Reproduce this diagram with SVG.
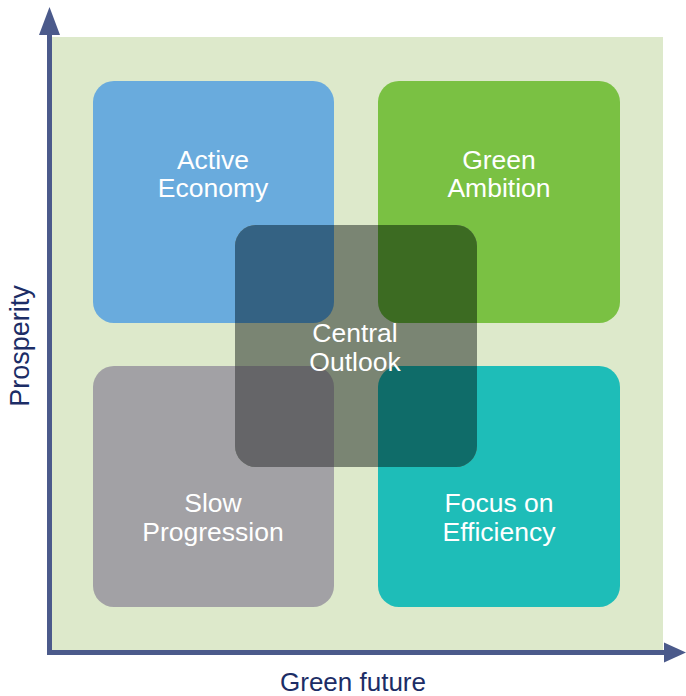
<svg xmlns="http://www.w3.org/2000/svg" width="686" height="696" viewBox="0 0 686 696">
<style>
.lbl{font-family:"Liberation Sans",Arial,sans-serif;font-size:26.5px;fill:#ffffff;text-anchor:middle}
.ax{font-family:"Liberation Sans",Arial,sans-serif;font-size:26px;fill:#1c2d66;text-anchor:middle}
.axl{stroke:#4b5a8b;stroke-width:5;fill:none}
.axh{fill:#4b5a8b}
</style>
<defs>
<clipPath id="cc"><rect x="235" y="225" width="242" height="242" rx="21"/></clipPath>
</defs>
<rect x="50" y="37" width="613" height="614" fill="#dde9cb"/>
<g id="active-economy">
<rect x="93" y="81" width="241" height="242" rx="21" fill="#69abdd"/>
<text class="lbl" x="213" y="169">Active</text>
<text class="lbl" x="213" y="197">Economy</text>
</g>
<g id="green-ambition">
<rect x="378" y="81" width="242" height="242" rx="21" fill="#7ac143"/>
<text class="lbl" x="499" y="169">Green</text>
<text class="lbl" x="499" y="197">Ambition</text>
</g>
<g id="slow-progression">
<rect x="93" y="366" width="241" height="241" rx="21" fill="#a2a1a5"/>
<text class="lbl" x="213" y="512">Slow</text>
<text class="lbl" x="213" y="541">Progression</text>
</g>
<g id="focus-on-efficiency">
<rect x="378" y="366" width="242" height="241" rx="21" fill="#1ebdb8"/>
<text class="lbl" x="499" y="512">Focus on</text>
<text class="lbl" x="499" y="541">Efficiency</text>
</g>
<g id="central-outlook">
<rect x="235" y="225" width="242" height="242" rx="21" fill="#7a8573"/>
<g clip-path="url(#cc)">
<rect x="93" y="81" width="241" height="242" rx="21" fill="#346283"/>
<rect x="378" y="81" width="242" height="242" rx="21" fill="#3c6b22"/>
<rect x="93" y="366" width="241" height="241" rx="21" fill="#656568"/>
<rect x="378" y="366" width="242" height="241" rx="21" fill="#0f6c69"/>
</g>
<text class="lbl" x="355" y="342">Central</text>
<text class="lbl" x="355" y="371">Outlook</text>
</g>
<g id="connectors">
<line class="axl" x1="49.5" y1="34" x2="49.5" y2="655"/>
<line class="axl" x1="47" y1="652.5" x2="665" y2="652.5"/>
<polygon class="axh" points="49.5,7 60,35 39,35"/>
<polygon class="axh" points="686,652.5 664,642.5 664,662.5"/>
</g>
<text class="ax" x="353" y="691">Green future</text>
<text class="ax" style="font-size:27px" transform="translate(29,346) rotate(-90)" x="0" y="0">Prosperity</text>
</svg>
